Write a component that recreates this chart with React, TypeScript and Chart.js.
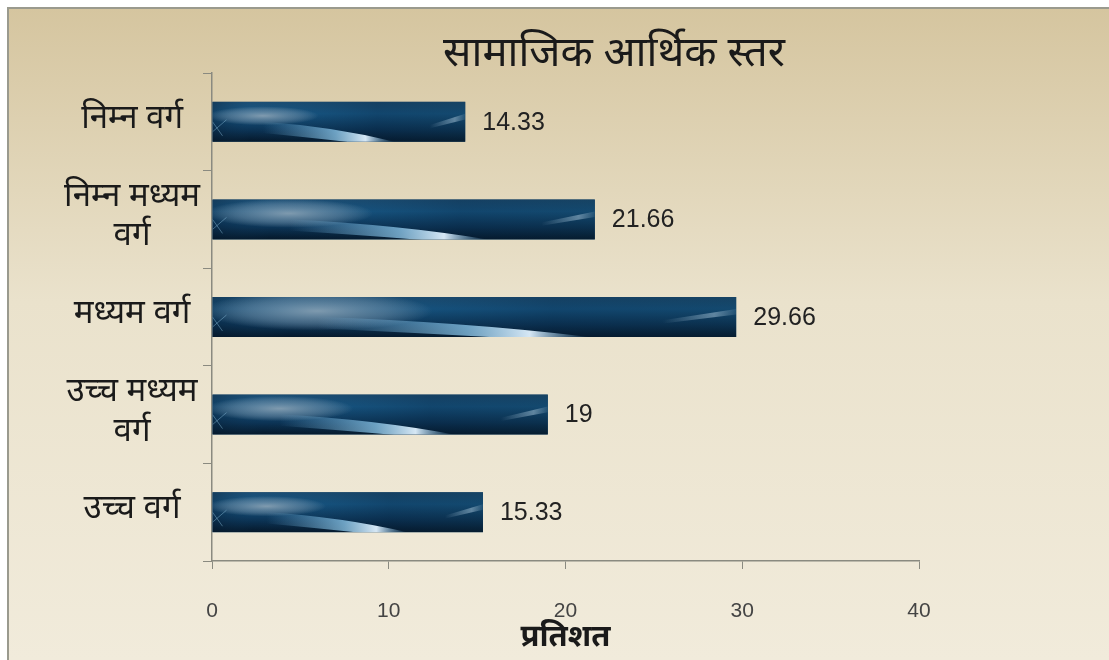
import React, { useEffect, useRef } from "react";
import { Chart, registerables } from "chart.js";

Chart.register(...registerables);

const chartTitle = "सामाजिक आर्थिक स्तर";
const axisTitle = "प्रतिशत";
const categories: (string | string[])[] = [
  "निम्न वर्ग",
  ["निम्न मध्यम", "वर्ग"],
  "मध्यम वर्ग",
  ["उच्च मध्यम", "वर्ग"],
  "उच्च वर्ग",
];
const values = [14.33, 21.66, 29.66, 19, 15.33];
const valueLabels = ["14.33", "21.66", "29.66", "19", "15.33"];
const xTicks = [0, 10, 20, 30, 40];

const DEV = "'Noto Sans Devanagari', 'Lohit Devanagari', 'Mangal', 'Noto Sans', sans-serif";
const LAT = "'Liberation Sans', Arial, sans-serif";

const backgroundPlugin = {
  id: "bgFrame",
  beforeDraw(chart: any) {
    const { ctx, width, height } = chart;
    ctx.save();
    ctx.fillStyle = "#ffffff";
    ctx.fillRect(0, 0, width, height);
    const g = ctx.createLinearGradient(0, 8, 0, height);
    g.addColorStop(0, "#d5c59f");
    g.addColorStop(0.45, "#eae2cc");
    g.addColorStop(1, "#f1ebdb");
    ctx.fillStyle = g;
    ctx.fillRect(8, 8, width - 8, height - 8);
    ctx.strokeStyle = "#9a9a8e";
    ctx.lineWidth = 2;
    ctx.beginPath();
    ctx.moveTo(8, height);
    ctx.lineTo(8, 8);
    ctx.lineTo(width, 8);
    ctx.stroke();
    ctx.restore();
  },
};

const titlePlugin = {
  id: "customTitle",
  afterDraw(chart: any) {
    const { ctx } = chart;
    ctx.save();
    ctx.fillStyle = "#1a1a1a";
    ctx.font = `400 42px ${DEV}`;
    ctx.textAlign = "center";
    ctx.textBaseline = "middle";
    ctx.fillText(chartTitle, 614, 58);
    ctx.restore();
  },
};

const barTexturePlugin = {
  id: "barTexture",
  afterDatasetsDraw(chart: any) {
    const { ctx } = chart;
    const meta = chart.getDatasetMeta(0);
    ctx.save();
    meta.data.forEach((bar: any, i: number) => {
      const p = bar.getProps(["x", "y", "base", "height"], true);
      const left = Math.min(p.base, p.x);
      const right = Math.max(p.base, p.x);
      const top = p.y - p.height / 2;
      const h = p.height;
      const w = right - left;
      ctx.save();
      ctx.beginPath();
      ctx.rect(left, top, w, h);
      ctx.clip();
      const vg = ctx.createLinearGradient(0, top, 0, top + h);
      vg.addColorStop(0, "#1c4e74");
      vg.addColorStop(0.3, "#175785");
      vg.addColorStop(0.7, "#0c3456");
      vg.addColorStop(1, "#05182a");
      ctx.fillStyle = vg;
      ctx.fillRect(left, top, w, h);
      const hg = ctx.createLinearGradient(left, 0, right, 0);
      hg.addColorStop(0, "rgba(5,25,45,0.35)");
      hg.addColorStop(0.15, "rgba(20,60,90,0)");
      hg.addColorStop(0.65, "rgba(5,30,55,0.3)");
      hg.addColorStop(1, "rgba(10,40,60,0.3)");
      ctx.fillStyle = hg;
      ctx.fillRect(left, top, w, h);
      const cx = left + w * 0.2;
      const cy = top + h * 0.35;
      const eg = ctx.createRadialGradient(cx, cy, 2, cx, cy, w * 0.22);
      eg.addColorStop(0, "rgba(150,170,185,0.8)");
      eg.addColorStop(0.6, "rgba(130,155,175,0.45)");
      eg.addColorStop(1, "rgba(150,170,185,0)");
      ctx.save();
      ctx.translate(cx, cy);
      ctx.scale(1, 0.17);
      ctx.translate(-cx, -cy);
      ctx.fillStyle = eg;
      ctx.fillRect(left, top - h * 3, w, h * 7);
      ctx.restore();
      const sx0 = left + w * 0.2;
      const sx1 = left + w * 0.72;
      const sg = ctx.createLinearGradient(sx0, 0, sx1, 0);
      sg.addColorStop(0, "rgba(120,190,235,0)");
      sg.addColorStop(0.55, "rgba(150,210,245,0.7)");
      sg.addColorStop(0.78, "rgba(225,242,255,0.95)");
      sg.addColorStop(1, "rgba(120,190,235,0)");
      ctx.fillStyle = sg;
      ctx.beginPath();
      ctx.moveTo(sx0, top + h * 0.5);
      ctx.quadraticCurveTo(left + w * 0.48, top + h * 0.62, sx1, top + h * 1.0);
      ctx.lineTo(sx1, top + h * 1.15);
      ctx.quadraticCurveTo(left + w * 0.48, top + h * 0.95, sx0, top + h * 0.78);
      ctx.closePath();
      ctx.fill();
      const rg = ctx.createLinearGradient(right - w * 0.14, 0, right, 0);
      rg.addColorStop(0, "rgba(160,190,210,0)");
      rg.addColorStop(0.7, "rgba(160,190,210,0.55)");
      rg.addColorStop(1, "rgba(160,190,210,0.1)");
      ctx.fillStyle = rg;
      ctx.beginPath();
      ctx.moveTo(right - w * 0.14, top + h * 0.58);
      ctx.lineTo(right, top + h * 0.3);
      ctx.lineTo(right, top + h * 0.44);
      ctx.lineTo(right - w * 0.14, top + h * 0.66);
      ctx.closePath();
      ctx.fill();
      ctx.strokeStyle = "rgba(140,190,220,0.45)";
      ctx.lineWidth = 1;
      ctx.beginPath();
      ctx.moveTo(left, top + h * 0.75);
      ctx.lineTo(left + 14, top + h * 0.45);
      ctx.moveTo(left, top + h * 0.5);
      ctx.lineTo(left + 10, top + h * 0.85);
      ctx.stroke();
      ctx.restore();
      ctx.fillStyle = "#222222";
      ctx.font = `25px ${LAT}`;
      ctx.textAlign = "left";
      ctx.textBaseline = "middle";
      ctx.fillText(valueLabels[i], right + 17, p.y + 1);
    });
    ctx.restore();
  },
};

export default function App() {
  const ref = useRef<HTMLCanvasElement | null>(null);
  useEffect(() => {
    if (!ref.current) return;
    const chart = new Chart(ref.current, {
      type: "bar",
      data: {
        labels: categories,
        datasets: [
          {
            data: values,
            backgroundColor: "#0e3a5e",
            borderWidth: 0,
            categoryPercentage: 1,
            barPercentage: 0.41,
          },
        ],
      },
      options: {
        indexAxis: "y",
        animation: false,
        responsive: false,
        maintainAspectRatio: false,
        layout: { padding: { top: 73, left: 8, right: 190, bottom: 0 } },
        plugins: {
          legend: { display: false },
          title: { display: false },
          tooltip: { enabled: false },
        },
        scales: {
          x: {
            type: "linear",
            min: 0,
            max: 40,
            afterBuildTicks: (scale: any) => {
              scale.ticks = xTicks.map((v) => ({ value: v }));
            },
            afterFit: (scale: any) => {
              scale.height = 99;
            },
            grid: {
              display: true,
              drawOnChartArea: false,
              drawTicks: true,
              tickLength: 8,
              color: "#8a8a80",
            },
            border: { display: true, color: "#8a8a80", width: 1.5 },
            ticks: {
              padding: 30,
              color: "#444444",
              font: { family: LAT, size: 21 },
            },
            title: {
              display: true,
              text: axisTitle,
              color: "#1a1a1a",
              font: { family: DEV, size: 31, weight: "bold" },
              padding: { top: 0, bottom: 1 },
            },
          },
          y: {
            afterFit: (scale: any) => {
              scale.width = 204;
            },
            grid: {
              display: true,
              drawOnChartArea: false,
              drawTicks: true,
              tickLength: 9,
              offset: true,
              color: "#8a8a80",
            },
            border: { display: true, color: "#8a8a80", width: 1.5 },
            ticks: {
              padding: 3,
              crossAlign: "center",
              color: "#1a1a1a",
              font: { family: DEV, size: 33, lineHeight: 1.2 },
            },
          },
        },
      },
      plugins: [backgroundPlugin, barTexturePlugin, titlePlugin],
    });
    return () => chart.destroy();
  }, []);
  return (
    <div style={{ position: "fixed", left: 0, top: 0, width: 1109, height: 660 }}>
      <canvas ref={ref} width={1109} height={660} style={{ display: "block" }} />
    </div>
  );
}
